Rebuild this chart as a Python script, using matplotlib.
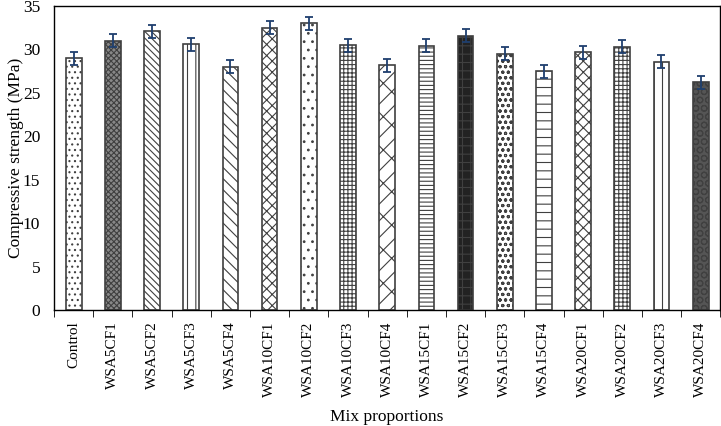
import matplotlib.pyplot as plt
import numpy as np

mixes = ["Control", "WSA5CF1", "WSA5CF2", "WSA5CF3", "WSA5CF4",
         "WSA10CF1", "WSA10CF2", "WSA10CF3", "WSA10CF4",
         "WSA15CF1", "WSA15CF2", "WSA15CF3", "WSA15CF4",
         "WSA20CF1", "WSA20CF2", "WSA20CF3", "WSA20CF4"]
strength = [29.0, 31.0, 32.1, 30.6, 28.0,
            32.5, 33.0, 30.5, 28.2,
            30.4, 31.6, 29.5, 27.5,
            29.7, 30.3, 28.6, 26.2]
errors = [0.75, 0.75, 0.75, 0.75, 0.75,
          0.75, 0.75, 0.75, 0.75,
          0.75, 0.75, 0.75, 0.75,
          0.75, 0.75, 0.75, 0.75]

hatches = ["...", "xxxxxx", "\\\\\\\\\\", "||", "\\\\\\",
           "xxx", "..", "++++", "x/", "----",
           "++", "ooo", "--", "xxx", "++++", "||", "OO"]
faces = ["white", "#888888", "white", "white", "white",
         "white", "white", "white", "white", "white",
         "#222222", "white", "white", "white", "white", "white", "#555555"]


def main():
    plt.rcParams["font.family"] = ["Liberation Serif", "DejaVu Serif"]
    plt.rcParams["hatch.linewidth"] = 0.8
    fig = plt.figure(figsize=(7.21, 4.26), dpi=100)
    ax = fig.add_axes([0.075, 0.272, 0.924, 0.714])

    x = np.arange(len(mixes))
    bars = ax.bar(x, strength, width=0.4, color=faces,
                  edgecolor="#404040", linewidth=1.2)
    for b, h in zip(bars, hatches):
        b.set_hatch(h)
    ax.errorbar(x, strength, yerr=errors, fmt="none", ecolor="#1F3F6E",
                elinewidth=1.3, capsize=3, capthick=1.3)

    ax.set_xlim(-0.5, len(mixes) - 0.5)
    ax.set_ylim(0, 35)
    ax.set_yticks(range(0, 36, 5))
    ax.tick_params(axis="y", length=0, labelsize=12.5, pad=10)
    ax.set_xticks(x)
    ax.set_xticklabels(mixes, rotation=90, fontsize=11)
    ax.tick_params(axis="x", length=0, pad=8)
    ax.set_xticks(np.arange(-0.5, len(mixes), 1), minor=True)
    ax.tick_params(axis="x", which="minor", length=5, direction="out")
    for s in ax.spines.values():
        s.set_color("black")
        s.set_linewidth(1.0)

    ax.set_ylabel("Compressive strength (MPa)", fontsize=12.5)
    ax.yaxis.set_label_coords(-0.045, 0.5)
    ax.set_xlabel("Mix proportions", fontsize=12.5)
    ax.xaxis.set_label_coords(0.5, -0.325)
    fig.savefig("out.png", dpi=100)


if __name__ == "__main__":
    main()
